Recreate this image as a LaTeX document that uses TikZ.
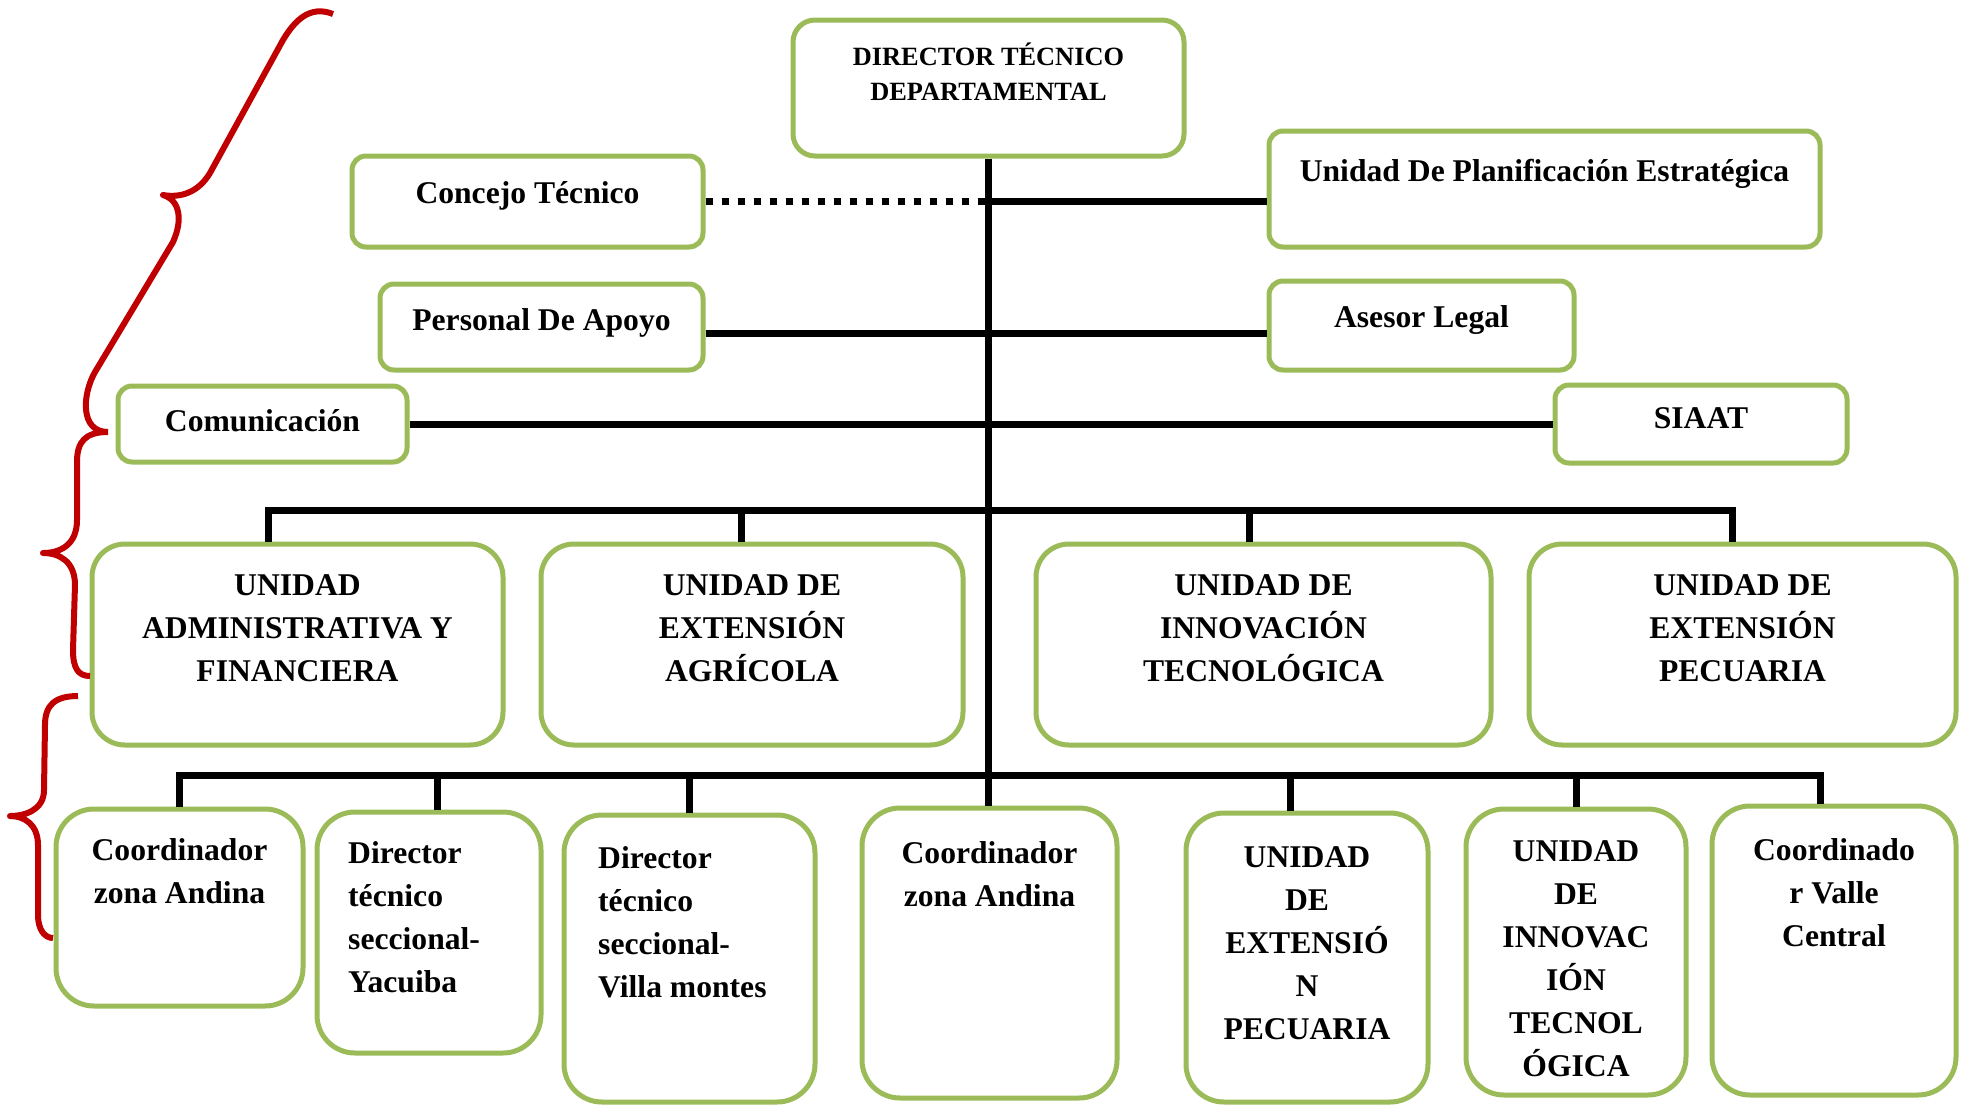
\documentclass[tikz,border=0pt]{standalone}
\usepackage{fontspec}
\setmainfont{Liberation Serif}
\usepackage{tikz}
\usetikzlibrary{positioning,calc}
\definecolor{catVerdeOliva}{HTML}{9BBB59}
\definecolor{catRojoOscuro}{HTML}{C00000}
\colorlet{colCaja}{catVerdeOliva}
\colorlet{colLlave}{catRojoOscuro}

\begin{document}
\begin{tikzpicture}[
        caja/.style={draw=colCaja, line width=0.05cm, fill=white, inner sep=0pt, rounded corners=0.14cm},
        unidad/.style={caja, rounded corners=0.33cm, minimum height=2.01cm},
        cajaBaja/.style={caja, rounded corners=0.38cm},
        texto/.style={font=\fontsize{9}{12.25}\selectfont\bfseries, align=center, inner sep=0pt},
        linea/.style={line width=0.07cm},
        llave/.style={colLlave, line width=0.06cm, line join=round}]
        \useasboundingbox (0,0) rectangle (19.65,-11.05);

        % Director
        \node[caja, rounded corners=0.22cm, minimum width=3.91cm, minimum height=1.36cm] (dir) at (9.885,-0.88) {};
        \node[texto, font=\fontsize{7.5}{10}\selectfont\bfseries, below=0.245cm of dir.north] (tDir) {DIRECTOR TÉCNICO\\DEPARTAMENTAL};

        % Cajas de apoyo
        \node[caja, minimum width=3.51cm, minimum height=0.91cm] (conc) at (5.275,-2.015) {};
        \node[texto, below=0.27cm of conc.north] (tConc) {Concejo Técnico};
        \node[caja, minimum width=5.51cm, minimum height=1.16cm] (upe) at (15.445,-1.89) {};
        \node[texto, below=0.30cm of upe.north] (tUpe) {Unidad De Planificación Estratégica};
        \node[caja, minimum width=3.23cm, minimum height=0.86cm] (pers) at (5.415,-3.27) {};
        \node[texto, below=0.26cm of pers.north] (tPers) {Personal De Apoyo};
        \node[caja, minimum width=3.05cm, minimum height=0.89cm] (ases) at (14.215,-3.255) {};
        \node[texto, below=0.26cm of ases.north] (tAses) {Asesor Legal};
        \node[caja, minimum width=2.89cm, minimum height=0.76cm] (com) at (2.625,-4.24) {};
        \node[texto, below=0.25cm of com.north] (tCom) {Comunicación};
        \node[caja, minimum width=2.92cm, minimum height=0.78cm] (siaat) at (17.01,-4.24) {};
        \node[texto, below=0.24cm of siaat.north] (tSiaat) {SIAAT};

        % Unidades
        \node[unidad, minimum width=4.11cm] (uaf) at (2.975,-6.445) {};
        \node[texto, below=0.32cm of uaf.north] (tUaf) {UNIDAD\\ADMINISTRATIVA Y\\FINANCIERA};
        \node[unidad, minimum width=4.22cm] (uea) at (7.52,-6.445) {};
        \node[texto, below=0.32cm of uea.north] (tUea) {UNIDAD DE\\EXTENSIÓN\\AGRÍCOLA};
        \node[unidad, minimum width=4.55cm] (uit) at (12.635,-6.445) {};
        \node[texto, below=0.32cm of uit.north] (tUit) {UNIDAD DE\\INNOVACIÓN\\TECNOLÓGICA};
        \node[unidad, minimum width=4.27cm] (uep) at (17.425,-6.445) {};
        \node[texto, below=0.32cm of uep.north] (tUep) {UNIDAD DE\\EXTENSIÓN\\PECUARIA};

        % Coordinaciones (abajo)
        \node[cajaBaja, minimum width=2.47cm, minimum height=1.97cm] (co1) at (1.795,-9.075) {};
        \node[texto, below=0.31cm of co1.north] (tCo1) {Coordinador\\zona Andina};
        \node[cajaBaja, minimum width=2.24cm, minimum height=2.41cm] (yac) at (4.29,-9.325) {};
        \node[texto, align=left, below right=0.31cm and 0.33cm of yac.north west] (tYac) {Director\\técnico\\seccional-\\Yacuiba};
        \node[cajaBaja, minimum width=2.51cm, minimum height=2.87cm] (vil) at (6.895,-9.585) {};
        \node[texto, align=left, below right=0.33cm and 0.36cm of vil.north west] (tVil) {Director\\técnico\\seccional-\\Villa montes};
        \node[cajaBaja, minimum width=2.55cm, minimum height=2.90cm] (co2) at (9.895,-9.53) {};
        \node[texto, below=0.35cm of co2.north] (tCo2) {Coordinador\\zona Andina};
        \node[cajaBaja, minimum width=2.42cm, minimum height=2.89cm] (uepec) at (13.07,-9.575) {};
        \node[texto, below=0.355cm of uepec.north] (tUepec) {UNIDAD\\DE\\EXTENSIÓ\\N\\PECUARIA};
        \node[cajaBaja, minimum width=2.20cm, minimum height=2.86cm] (uitb) at (15.76,-9.52) {};
        \node[texto, below=0.335cm of uitb.north] (tUitb) {UNIDAD\\DE\\INNOVAC\\IÓN\\TECNOL\\ÓGICA};
        \node[cajaBaja, minimum width=2.44cm, minimum height=2.89cm] (cvc) at (18.34,-9.505) {};
        \node[texto, below=0.345cm of cvc.north] (tCvc) {Coordinado\\r Valle\\Central};

        % Eje central
        \draw[linea] (dir.south) -- (dir.south |- co2.north);
        \coordinate (nConc) at (conc.east -| dir.south);
        \coordinate (busA) at (9.885,-5.10);
        \coordinate (busB) at (9.885,-7.75);

        % Ramas laterales
        \draw[linea, dash pattern=on 0.07cm off 0.09cm] (conc.east) -- (nConc);
        \draw[linea] (nConc) -- (conc.east -| upe.west);
        \draw[linea] ([yshift=-0.06cm]pers.east) -- ([yshift=-0.06cm]pers.east -| ases.west);
        \draw[linea] (com.east) -- (siaat.west);

        % Barra de unidades
        \draw[linea] ([xshift=-0.295cm]uaf.north) |- ([xshift=-0.105cm]uep.north |- busA) -- ([xshift=-0.105cm]uep.north);
        \draw[linea] ([xshift=-0.11cm]uea.north) -- ([xshift=-0.11cm]uea.north |- busA);
        \draw[linea] ([xshift=-0.145cm]uit.north) -- ([xshift=-0.145cm]uit.north |- busA);

        % Barra de coordinaciones
        \draw[linea] (co1.north) |- ([xshift=-0.14cm]cvc.north |- busB) -- ([xshift=-0.14cm]cvc.north);
        \draw[linea] ([xshift=0.08cm]yac.north) -- ([xshift=0.08cm]yac.north |- busB);
        \draw[linea] (vil.north) -- (vil.north |- busB);
        \draw[linea] ([xshift=-0.17cm]uepec.north) -- ([xshift=-0.17cm]uepec.north |- busB);
        \draw[linea] (uitb.north) -- (uitb.north |- busB);

        % Llaves
        \draw[llave] (3.33,-0.14) .. controls (3.10,-0.05) and (2.95,-0.20) .. (2.83,-0.40) -- (2.10,-1.73) .. controls (1.98,-1.93) and (1.80,-1.98) .. (1.63,-1.95) .. controls (1.80,-2.00) and (1.83,-2.20) .. (1.73,-2.42) -- (0.95,-3.72) .. controls (0.82,-3.95) and (0.80,-4.32) .. (1.08,-4.32);
        \draw[llave] (1.08,-4.32) .. controls (0.85,-4.32) and (0.77,-4.42) .. (0.77,-4.62) -- (0.77,-5.20) .. controls (0.77,-5.45) and (0.60,-5.53) .. (0.43,-5.53) .. controls (0.60,-5.53) and (0.75,-5.62) .. (0.75,-5.85) -- (0.73,-6.50) .. controls (0.73,-6.68) and (0.78,-6.76) .. (0.90,-6.76);
        \draw[llave] (0.78,-6.96) .. controls (0.55,-6.96) and (0.45,-7.05) .. (0.45,-7.25) -- (0.44,-7.90) .. controls (0.44,-8.10) and (0.25,-8.16) .. (0.10,-8.16) .. controls (0.25,-8.16) and (0.38,-8.25) .. (0.38,-8.45) -- (0.38,-9.15) .. controls (0.38,-9.30) and (0.45,-9.38) .. (0.53,-9.38);
\end{tikzpicture}
\end{document}
